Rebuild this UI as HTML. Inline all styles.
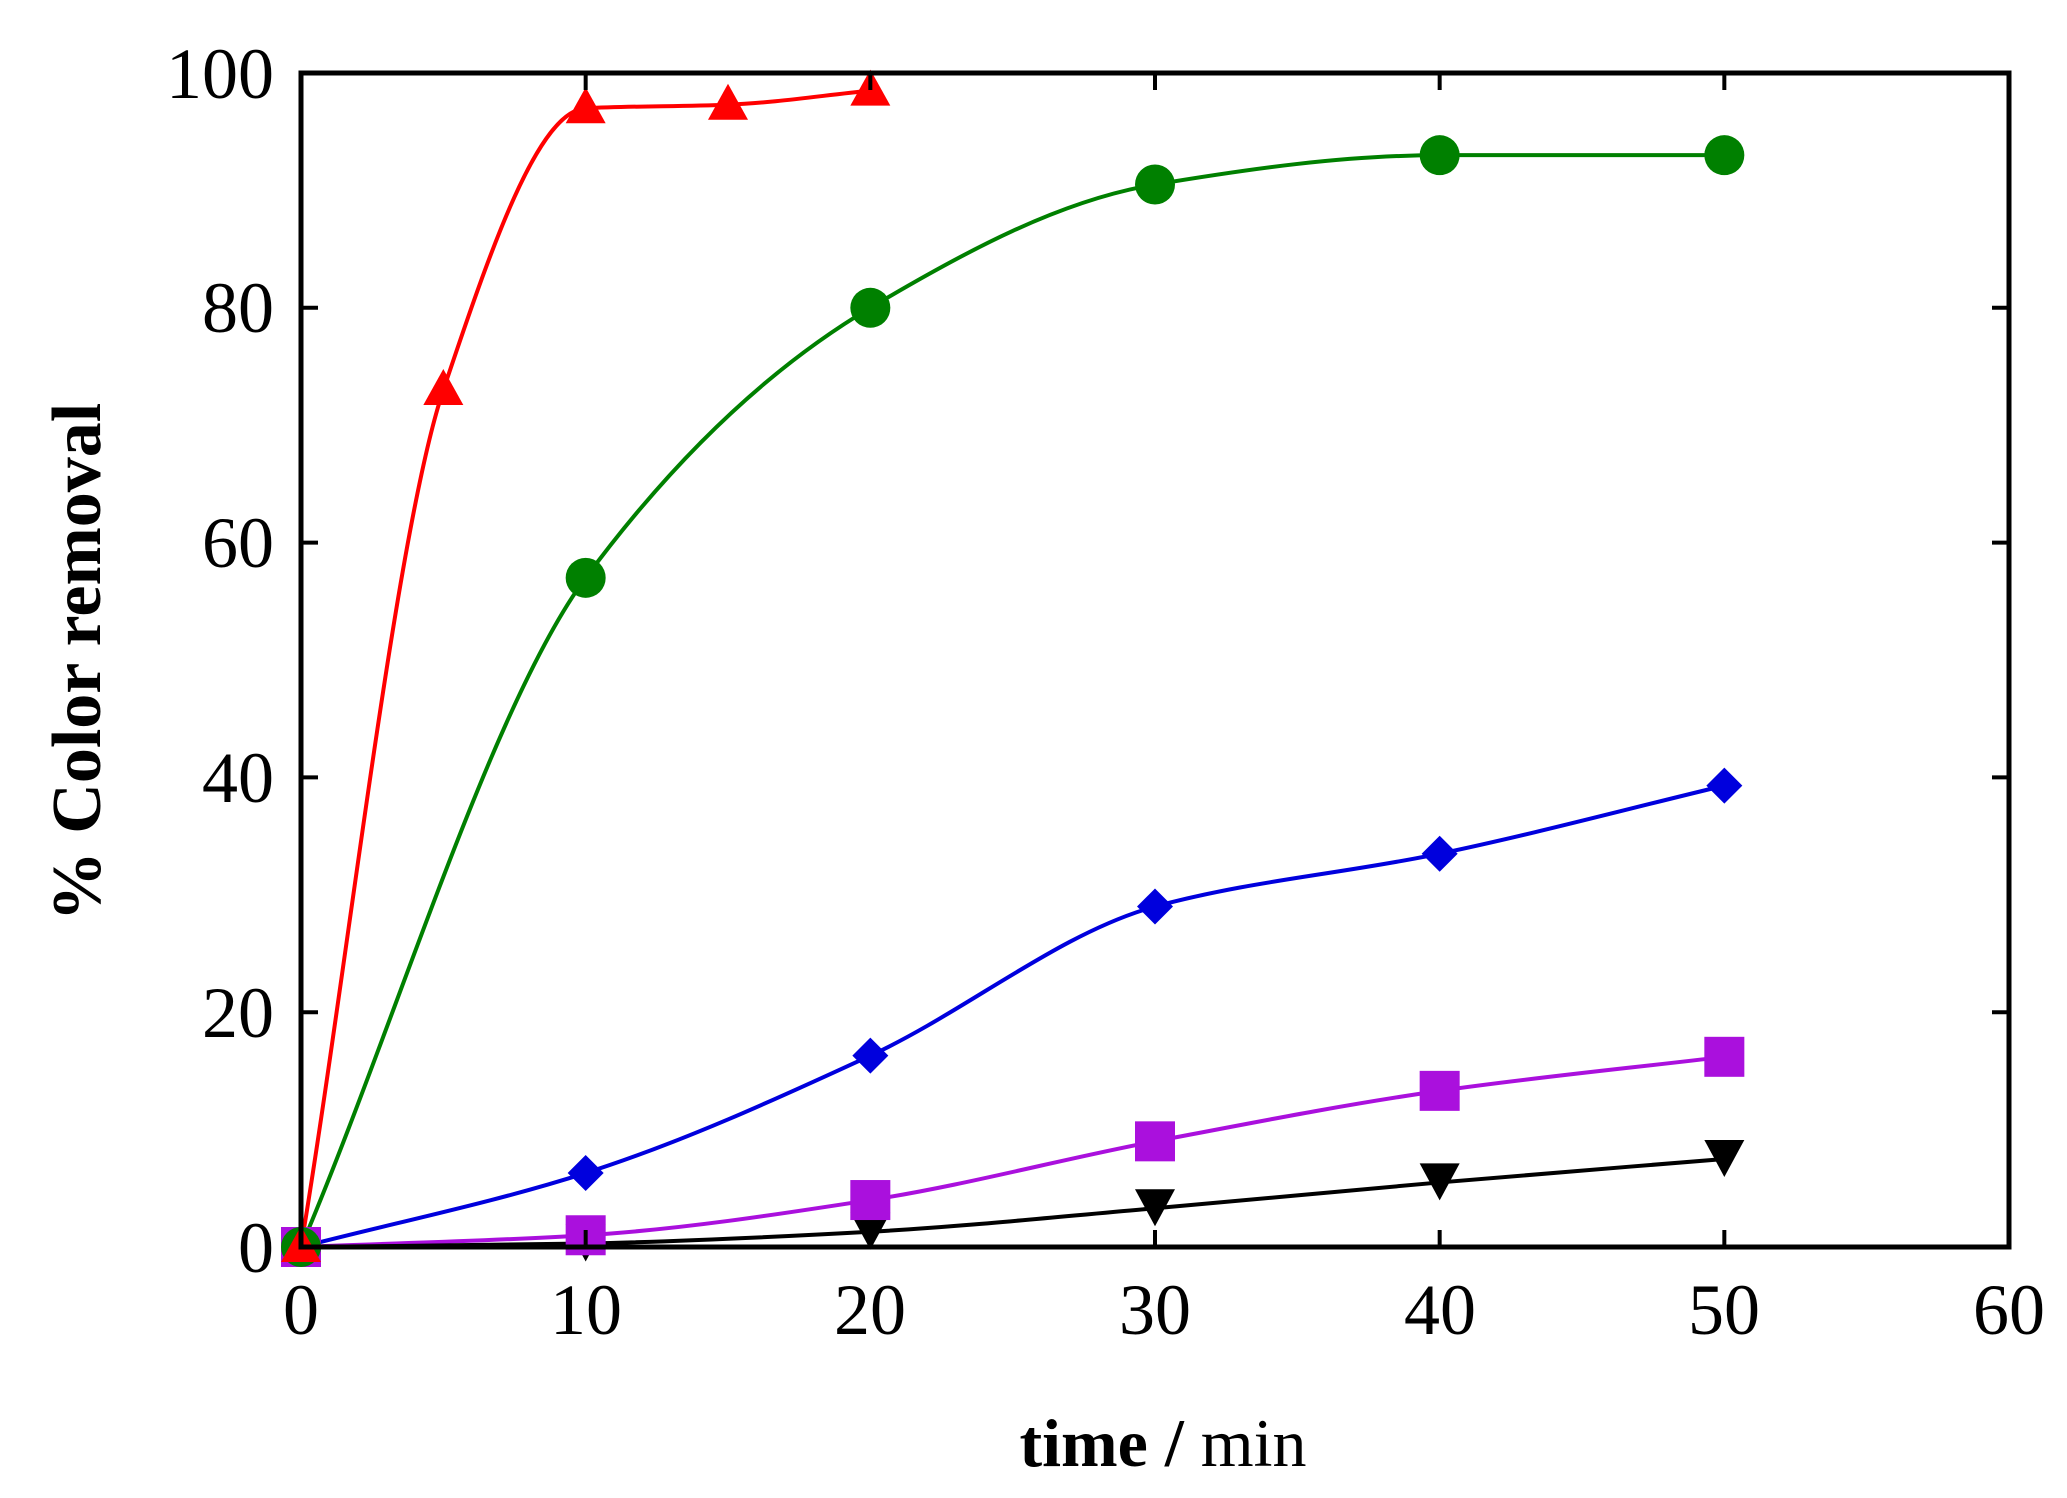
<!DOCTYPE html>
<html><head><meta charset="utf-8"><style>
html,body{margin:0;padding:0;background:#fff;}
svg{display:block;}
text{font-family:"Liberation Serif",serif;}
</style></head><body>
<svg id="s" width="2067" height="1498" viewBox="0 0 2067 1498" xmlns="http://www.w3.org/2000/svg">
<g id="g"></g>
<g font-size="72" fill="#000">
<text x="274" y="1272" text-anchor="end">0</text>
<text x="274" y="1037" text-anchor="end">20</text>
<text x="274" y="802" text-anchor="end">40</text>
<text x="274" y="567" text-anchor="end">60</text>
<text x="274" y="332" text-anchor="end">80</text>
<text x="274" y="98" text-anchor="end">100</text>
<text x="301" y="1334" text-anchor="middle">0</text>
<text x="586" y="1334" text-anchor="middle">10</text>
<text x="870" y="1334" text-anchor="middle">20</text>
<text x="1155" y="1334" text-anchor="middle">30</text>
<text x="1440" y="1334" text-anchor="middle">40</text>
<text x="1724" y="1334" text-anchor="middle">50</text>
<text x="2009" y="1334" text-anchor="middle">60</text>
</g>
<text x="1163" y="1466" text-anchor="middle" font-size="68"><tspan font-weight="bold">time /</tspan> min</text>
<text transform="translate(100,662) rotate(-90)" text-anchor="middle" font-size="70" font-weight="bold">% Color removal</text>
</svg>
<script>
var L=301,R=2009,T=73,B=1247;
function X(v){return L+(R-L)*v/60;}
function Y(v){return B+(T-B)*v/100;}
var g=document.getElementById('g');var h='';
function path(pts){var n=pts.length,xs=pts.map(function(a){return a[0]}),ys=pts.map(function(a){return a[1]});
var dl=[],m=[];for(var i=0;i<n-1;i++)dl.push((ys[i+1]-ys[i])/(xs[i+1]-xs[i]));
m[0]=dl[0];m[n-1]=dl[n-2];for(var i=1;i<n-1;i++){if(dl[i-1]*dl[i]<=0)m[i]=0;else m[i]=2/(1/dl[i-1]+1/dl[i]);}
var d='M'+X(xs[0])+','+Y(ys[0]);
for(var i=0;i<n-1;i++){var hh=(xs[i+1]-xs[i])/3;
d+=' C'+X(xs[i]+hh)+','+Y(ys[i]+m[i]*hh)+' '+X(xs[i+1]-hh)+','+Y(ys[i+1]-m[i+1]*hh)+' '+X(xs[i+1])+','+Y(ys[i+1]);}
return d;}
var S=[
{c:'#ff0000',m:'tri',d:[[0,0],[5,73],[10,97],[15,97.3],[20,98.5]]},
{c:'#008000',m:'cir',d:[[0,0],[10,57],[20,80],[30,90.5],[40,93],[50,93]]},
{c:'#0000dd',m:'dia',d:[[0,0],[10,6.3],[20,16.3],[30,29],[40,33.5],[50,39.3]]},
{c:'#aa10dd',m:'sq',d:[[0,0],[10,1],[20,4],[30,9],[40,13.3],[50,16.2]]},
{c:'#000000',m:'inv',d:[[0,0],[10,0.3],[20,1.3],[30,3.3],[40,5.5],[50,7.5]]}];
S.forEach(function(s){h+='<path d="'+path(s.d)+'" fill="none" stroke="'+s.c+'" stroke-width="4"/>';});
S.slice().reverse().forEach(function(s){s.d.forEach(function(a){var x=X(a[0]),y=Y(a[1]);
if(s.m=='tri')h+='<polygon points="'+x+','+(y-21)+' '+(x+20)+','+(y+15)+' '+(x-20)+','+(y+15)+'" fill="'+s.c+'"/>';
if(s.m=='cir')h+='<circle cx="'+x+'" cy="'+y+'" r="20" fill="'+s.c+'"/>';
if(s.m=='dia')h+='<polygon points="'+x+','+(y-18)+' '+(x+18)+','+y+' '+x+','+(y+18)+' '+(x-18)+','+y+'" fill="'+s.c+'"/>';
if(s.m=='sq')h+='<rect x="'+(x-20)+'" y="'+(y-20)+'" width="40" height="40" fill="'+s.c+'"/>';
if(s.m=='inv')h+='<polygon points="'+(x-20)+','+(y-19)+' '+(x+20)+','+(y-19)+' '+x+','+(y+18)+'" fill="'+s.c+'"/>';
});});
h+='<rect x="'+L+'" y="'+T+'" width="'+(R-L)+'" height="'+(B-T)+'" fill="none" stroke="#000" stroke-width="5"/>';
for(var i=1;i<6;i++){var x=X(i*10);h+='<line x1="'+x+'" y1="'+B+'" x2="'+x+'" y2="'+(B-17)+'" stroke="#000" stroke-width="4"/><line x1="'+x+'" y1="'+T+'" x2="'+x+'" y2="'+(T+17)+'" stroke="#000" stroke-width="4"/>';}
for(var i=1;i<5;i++){var y=Y(i*20);h+='<line x1="'+L+'" y1="'+y+'" x2="'+(L+17)+'" y2="'+y+'" stroke="#000" stroke-width="4"/><line x1="'+R+'" y1="'+y+'" x2="'+(R-17)+'" y2="'+y+'" stroke="#000" stroke-width="4"/>';}
g.innerHTML=h;
</script>
</body></html>
